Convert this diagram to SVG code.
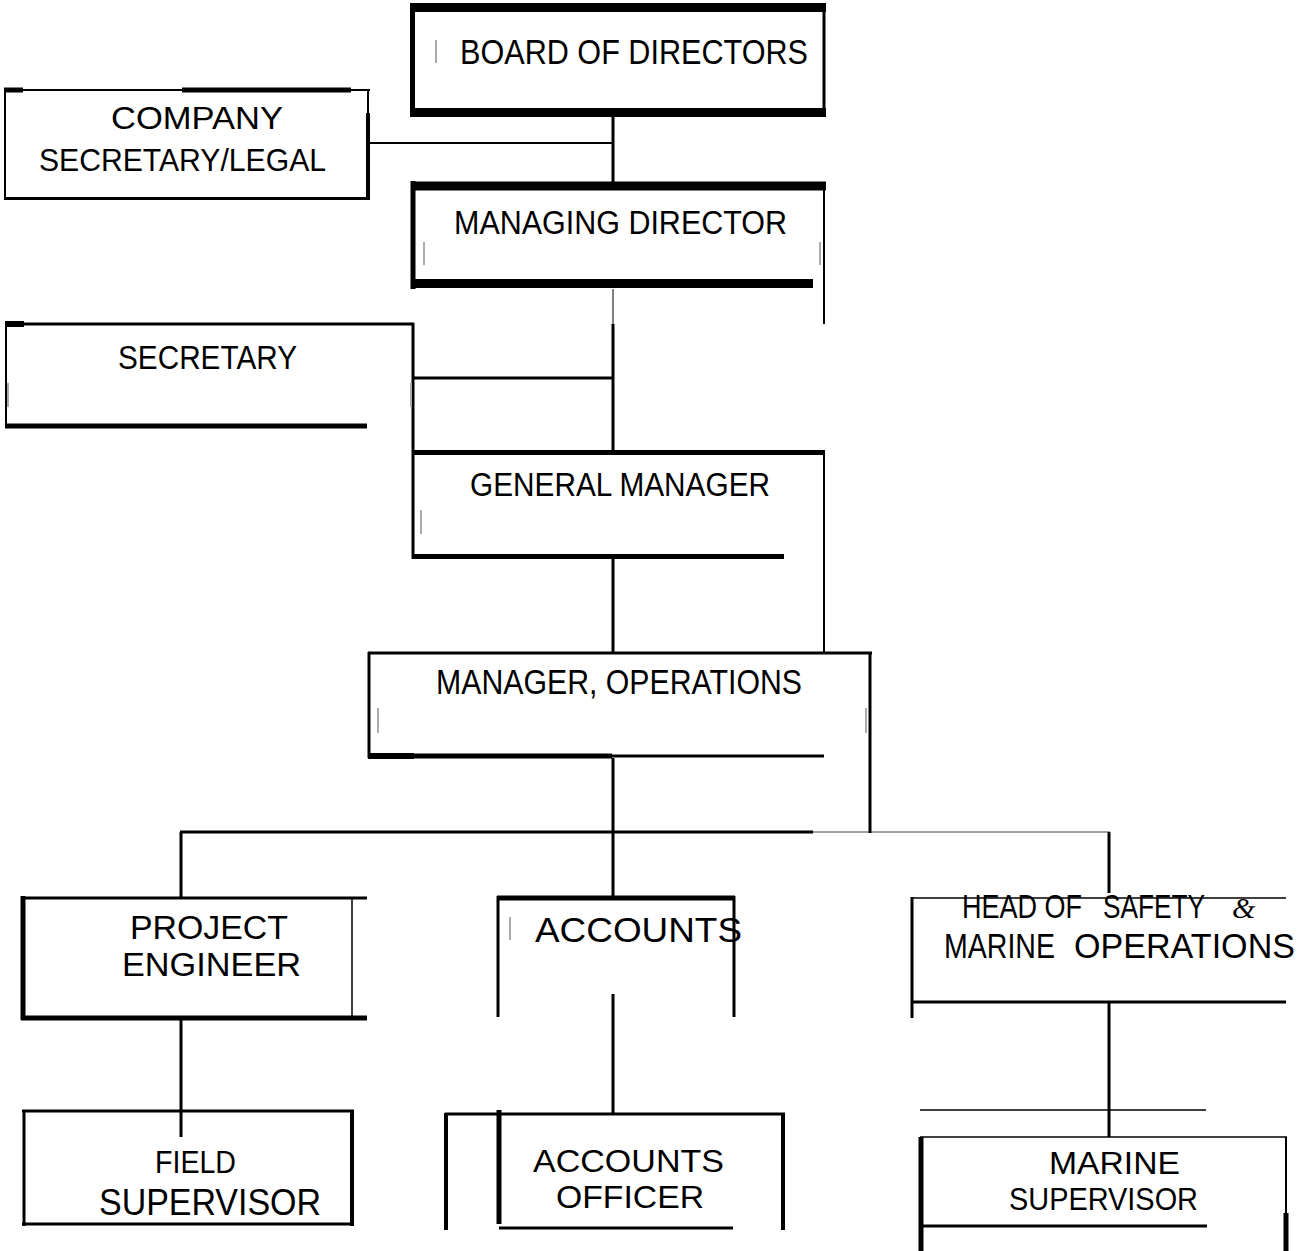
<svg xmlns="http://www.w3.org/2000/svg" width="1300" height="1251" viewBox="0 0 1300 1251">
<style>
line{stroke:#000;fill:none;stroke-linecap:butt}
.w1{stroke-width:1}
.w15{stroke-width:1.5}
.w2{stroke-width:2}
.w3{stroke-width:3}
.w4{stroke-width:4}
.w5{stroke-width:5}
.w6{stroke-width:6}
.w9{stroke-width:9}
.g{stroke:#444}
.tick{stroke:#aaa;stroke-width:2}
text{font-family:"Liberation Sans",Arial,sans-serif;fill:#000}
</style>
<rect width="1300" height="1251" fill="#fff"/>
<g id="connectors">
<line class="w2" x1="370" y1="143" x2="613" y2="143"/>
<line class="w3" x1="613" y1="117" x2="613" y2="182"/>
<line class="w1" x1="613" y1="289" x2="613" y2="324"/>
<line class="w3" x1="613" y1="324" x2="613" y2="451"/>
<line class="w3" x1="413" y1="378" x2="613" y2="378"/>
<line class="w3" x1="613" y1="559" x2="613" y2="652"/>
<line class="w3" x1="613" y1="758" x2="613" y2="897"/>
<line class="w3" x1="180" y1="832" x2="813" y2="832"/>
<line class="w1 g" x1="813" y1="832" x2="1110" y2="832"/>
<line class="w3" x1="181" y1="832" x2="181" y2="897"/>
<line class="w3" x1="1109" y1="832" x2="1109" y2="893"/>
<line class="w3" x1="181" y1="1020" x2="181" y2="1137"/>
<line class="w3" x1="613" y1="994" x2="613" y2="1114"/>
<line class="w3" x1="1109" y1="1002" x2="1109" y2="1137"/>
<line class="w15" x1="920" y1="1110" x2="1206" y2="1110"/>
</g>
<g id="board">
<line class="w9" x1="410" y1="7.5" x2="826" y2="7.5"/>
<line class="w9" x1="410" y1="112.5" x2="826" y2="112.5"/>
<line class="w5" x1="412.5" y1="3" x2="412.5" y2="117"/>
<line class="w3" x1="824" y1="3" x2="824" y2="117"/>
<line class="tick" x1="436" y1="40" x2="436" y2="63"/>
<text x="460" y="64" font-size="35" textLength="348" lengthAdjust="spacingAndGlyphs">BOARD OF DIRECTORS</text>
</g>
<g id="company">
<line class="w2" x1="4" y1="90" x2="370" y2="90"/>
<line class="w5" x1="4" y1="90" x2="23" y2="90"/>
<line class="w5" x1="182" y1="90" x2="351" y2="90"/>
<line class="w2" x1="5" y1="89" x2="5" y2="200"/>
<line class="w2" x1="368" y1="89" x2="368" y2="113"/>
<line class="w4" x1="368" y1="113" x2="368" y2="200"/>
<line class="w3" x1="4" y1="198.5" x2="370" y2="198.5"/>
<text x="111" y="129" font-size="32" textLength="172" lengthAdjust="spacingAndGlyphs">COMPANY</text>
<text x="39" y="171" font-size="32" textLength="287" lengthAdjust="spacingAndGlyphs">SECRETARY/LEGAL</text>
</g>
<g id="managing-director">
<line class="w9" x1="411" y1="186" x2="826" y2="186"/>
<line class="w9" x1="411" y1="283.5" x2="813" y2="283.5"/>
<line class="w5" x1="413" y1="181" x2="413" y2="289"/>
<line class="w2" x1="824" y1="186" x2="824" y2="324"/>
<line class="tick" x1="424" y1="242" x2="424" y2="265"/>
<line class="tick" x1="820" y1="242" x2="820" y2="265"/>
<text x="454" y="234" font-size="34" textLength="333" lengthAdjust="spacingAndGlyphs">MANAGING DIRECTOR</text>
</g>
<g id="secretary">
<line class="w3" x1="5" y1="324" x2="414" y2="324"/>
<line class="w6" x1="5" y1="324" x2="24" y2="324"/>
<line class="w2" x1="6" y1="323" x2="6" y2="428"/>
<line class="w5" x1="5" y1="426" x2="367" y2="426"/>
<line class="w3" x1="413" y1="323" x2="413" y2="451"/>
<line class="tick" x1="8" y1="383" x2="8" y2="407"/>
<line class="tick" x1="411" y1="383" x2="411" y2="407"/>
<text x="118" y="369" font-size="34" textLength="179" lengthAdjust="spacingAndGlyphs">SECRETARY</text>
</g>
<g id="general-manager">
<line class="w5" x1="412" y1="452.5" x2="825" y2="452.5"/>
<line class="w3" x1="413" y1="451" x2="413" y2="559"/>
<line class="w5" x1="412" y1="556.5" x2="784" y2="556.5"/>
<line class="w2" x1="824" y1="451" x2="824" y2="652"/>
<line class="tick" x1="421" y1="510" x2="421" y2="534"/>
<text x="470" y="496" font-size="33" textLength="300" lengthAdjust="spacingAndGlyphs">GENERAL MANAGER</text>
</g>
<g id="manager-operations">
<line class="w3" x1="368" y1="653" x2="872" y2="653"/>
<line class="w3" x1="369" y1="652" x2="369" y2="758"/>
<line class="w6" x1="368" y1="756" x2="414" y2="756"/>
<line class="w5" x1="414" y1="756" x2="612" y2="756"/>
<line class="w3" x1="612" y1="756" x2="824" y2="756"/>
<line class="w3" x1="870" y1="652" x2="870" y2="833"/>
<line class="tick" x1="378" y1="708" x2="378" y2="733"/>
<line class="tick" x1="866" y1="708" x2="866" y2="733"/>
<text x="436" y="694" font-size="35" textLength="366" lengthAdjust="spacingAndGlyphs">MANAGER, OPERATIONS</text>
</g>
<g id="project-engineer">
<line class="w3" x1="21" y1="898" x2="367" y2="898"/>
<line class="w5" x1="23" y1="896" x2="23" y2="1020"/>
<line class="w15" x1="352" y1="897" x2="352" y2="1016"/>
<line class="w5" x1="21" y1="1018" x2="367" y2="1018"/>
<text x="130" y="939" font-size="34" textLength="158" lengthAdjust="spacingAndGlyphs">PROJECT</text>
<text x="122" y="976" font-size="34" textLength="179" lengthAdjust="spacingAndGlyphs">ENGINEER</text>
</g>
<g id="accounts">
<line class="w5" x1="497" y1="898" x2="735" y2="898"/>
<line class="w3" x1="498" y1="896" x2="498" y2="1017"/>
<line class="w3" x1="734" y1="896" x2="734" y2="1017"/>
<line class="tick" x1="510" y1="917" x2="510" y2="940"/>
<text x="535" y="942" font-size="35" textLength="207" lengthAdjust="spacingAndGlyphs">ACCOUNTS</text>
</g>
<g id="head-safety-marine">
<line class="w15" x1="911" y1="898" x2="1286" y2="898"/>
<line class="w3" x1="912" y1="897" x2="912" y2="1018"/>
<line class="w3" x1="911" y1="1002" x2="1286" y2="1002"/>
<text y="918" font-size="33"><tspan x="962" textLength="120" lengthAdjust="spacingAndGlyphs">HEAD OF</tspan><tspan x="1103" textLength="102" lengthAdjust="spacingAndGlyphs">SAFETY</tspan><tspan x="1232" font-family="Liberation Serif,serif" font-style="italic" font-size="30">&amp;</tspan></text>
<text y="958" font-size="35"><tspan x="944" textLength="111" lengthAdjust="spacingAndGlyphs">MARINE</tspan><tspan x="1074" textLength="221" lengthAdjust="spacingAndGlyphs">OPERATIONS</tspan></text>
</g>
<g id="field-supervisor">
<line class="w3" x1="22" y1="1111" x2="354" y2="1111"/>
<line class="w3" x1="24" y1="1110" x2="24" y2="1226"/>
<line class="w4" x1="352" y1="1110" x2="352" y2="1226"/>
<line class="w3" x1="22" y1="1224" x2="354" y2="1224"/>
<text x="155" y="1173" font-size="32" textLength="81" lengthAdjust="spacingAndGlyphs">FIELD</text>
<text x="99" y="1215" font-size="37" textLength="222" lengthAdjust="spacingAndGlyphs">SUPERVISOR</text>
</g>
<g id="accounts-officer">
<line class="w4" x1="446" y1="1113" x2="446" y2="1230"/>
<line class="w5" x1="499" y1="1110" x2="499" y2="1224"/>
<line class="w3" x1="445" y1="1114" x2="785" y2="1114"/>
<line class="w4" x1="783" y1="1113" x2="783" y2="1230"/>
<line class="w3" x1="499" y1="1228" x2="733" y2="1228"/>
<text x="533" y="1172" font-size="32" textLength="191" lengthAdjust="spacingAndGlyphs">ACCOUNTS</text>
<text x="556" y="1208" font-size="32" textLength="148" lengthAdjust="spacingAndGlyphs">OFFICER</text>
</g>
<g id="marine-supervisor">
<line class="w15" x1="920" y1="1137" x2="1287" y2="1137"/>
<line class="w5" x1="921" y1="1137" x2="921" y2="1251"/>
<line class="w2" x1="1286" y1="1137" x2="1286" y2="1213"/>
<line class="w5" x1="1286" y1="1213" x2="1286" y2="1251"/>
<line class="w3" x1="920" y1="1226" x2="1207" y2="1226"/>
<text x="1049" y="1174" font-size="31" textLength="131" lengthAdjust="spacingAndGlyphs">MARINE</text>
<text x="1009" y="1210" font-size="31" textLength="189" lengthAdjust="spacingAndGlyphs">SUPERVISOR</text>
</g>
</svg>
